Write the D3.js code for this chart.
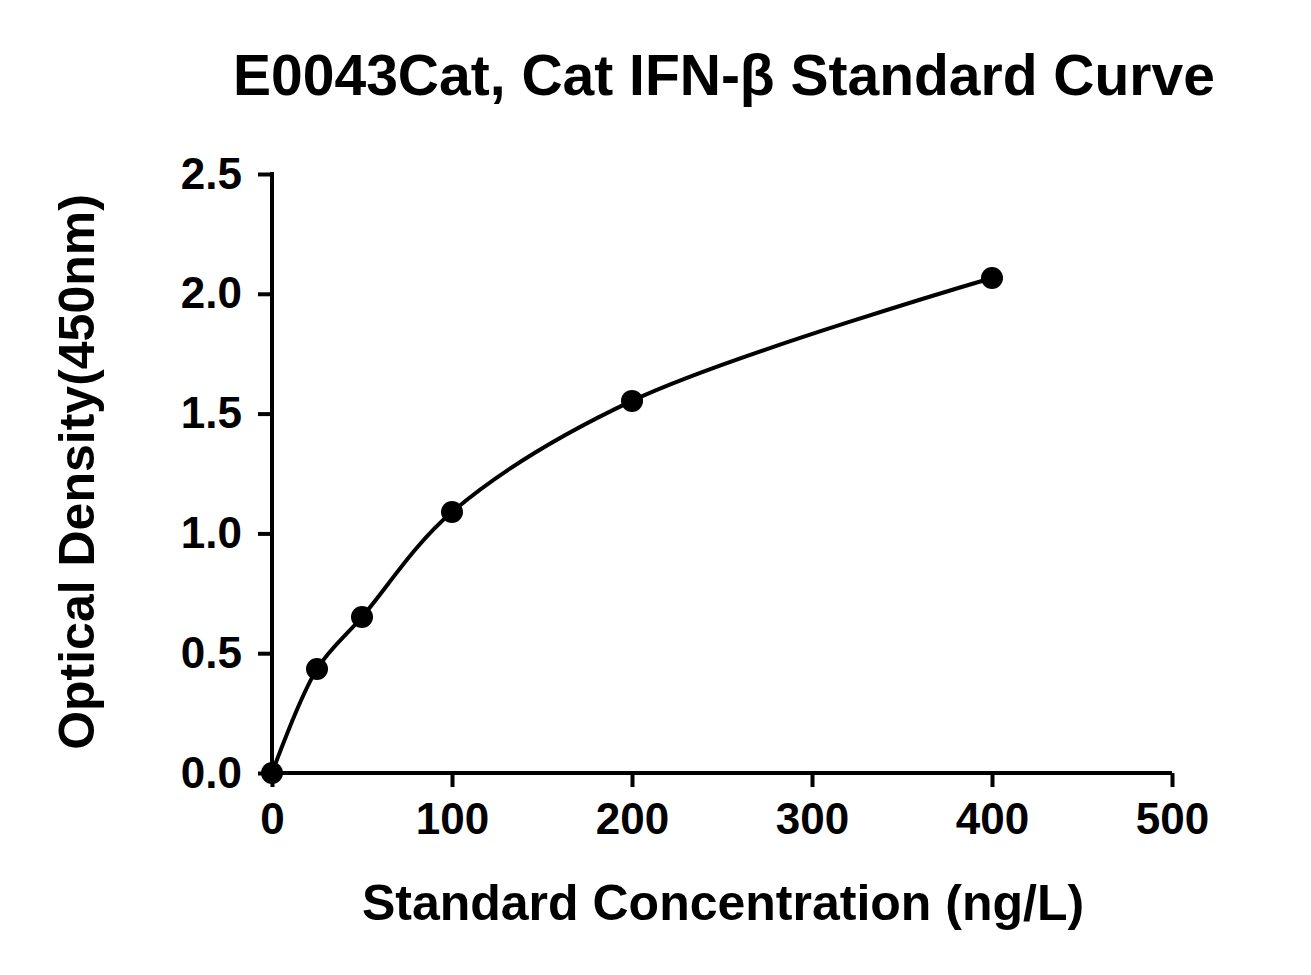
<!DOCTYPE html><html><head><meta charset="utf-8"><script src="https://cdn.jsdelivr.net/npm/d3@7"></script>
<style>body{margin:0;background:#fff}text{font-family:"Liberation Sans",Arial,sans-serif;font-weight:bold;fill:#000}</style></head><body>
<svg id="c" width="1311" height="975"></svg>
<script>
const conc=[0,25,50,100,200,400];
const od=[0.0,0.434,0.651,1.089,1.553,2.066];
const xTicks=[0,100,200,300,400,500];
const yTicks=[0.0,0.5,1.0,1.5,2.0,2.5];
const svg=d3.select("#c");
const x=d3.scaleLinear().domain([0,500]).range([272,1172]);
const y=d3.scaleLinear().domain([0,2.5]).range([773,174]);
const xa=svg.append("g").attr("transform","translate(0,773)").call(d3.axisBottom(x).tickValues(xTicks).tickSize(14).tickPadding(16).tickFormat(d3.format("d")));
const ya=svg.append("g").attr("transform","translate(272,0)").call(d3.axisLeft(y).tickValues(yTicks).tickSize(14).tickPadding(16).tickFormat(d3.format(".1f")));
[xa,ya].forEach(a=>{a.selectAll("path,line").attr("stroke","#000").attr("stroke-width",4);a.selectAll("text").style("font-size","44px");a.select(".domain").attr("d",a===xa?"M272,0H1172":"M0,773V172");});
const pts=conc.map((c,i)=>[c,od[i]]);
svg.append("path").datum(pts).attr("fill","none").attr("stroke","#000").attr("stroke-width",4)
 .attr("d",d3.line().x(d=>x(d[0])).y(d=>y(d[1])).curve(d3.curveCatmullRom.alpha(0.5)));
svg.selectAll("circle").data(pts).join("circle").attr("cx",d=>x(d[0])).attr("cy",d=>y(d[1])).attr("r",11).attr("fill","#000");
svg.append("text").attr("x",724).attr("y",95).attr("text-anchor","middle").style("font-size","57px").text("E0043Cat, Cat IFN-β Standard Curve");
svg.append("text").attr("x",723).attr("y",920).attr("text-anchor","middle").style("font-size","50px").text("Standard Concentration (ng/L)");
svg.append("text").attr("transform","translate(94,472) rotate(-90)").attr("text-anchor","middle").style("font-size","50px").text("Optical Density(450nm)");
</script></body></html>
